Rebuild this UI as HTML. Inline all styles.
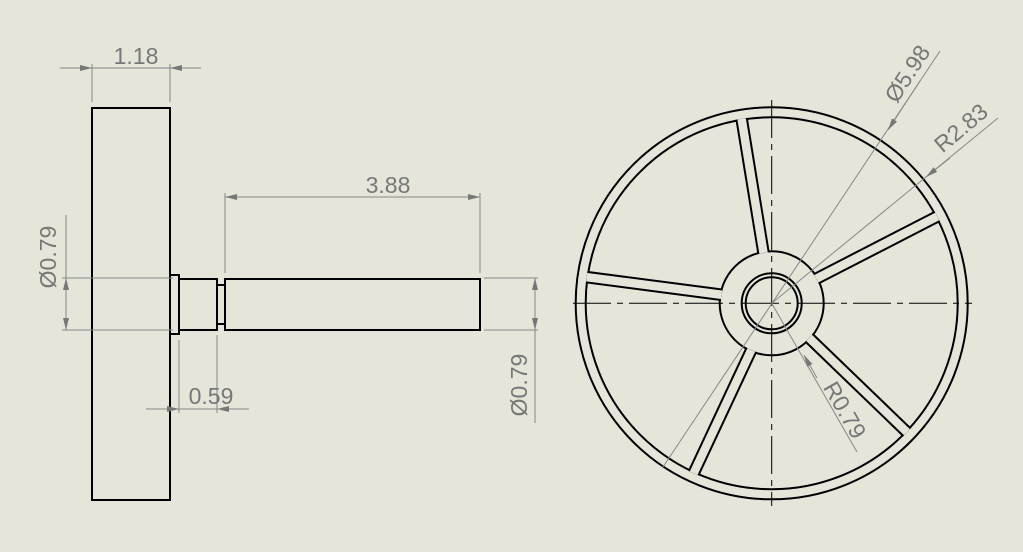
<!DOCTYPE html>
<html><head><meta charset="utf-8"><style>
html,body{margin:0;padding:0;background:#e5e5da;}
svg{display:block}
text{font-family:"Liberation Sans",sans-serif;fill:#777;font-size:23px}
</style></head><body>
<svg width="1023" height="552" viewBox="0 0 1023 552">
<defs>
<marker id="ar" markerWidth="12" markerHeight="6" refX="12" refY="3" orient="auto" markerUnits="userSpaceOnUse"><path d="M0,0 L12,3 L0,6 Z" fill="#777"/></marker>
<clipPath id="ann"><path clip-rule="evenodd" d="M771.7,303.3 m-187,0 a187,187 0 1,0 374,0 a187,187 0 1,0 -374,0 Z M771.7,303.3 m-51,0 a51,51 0 1,0 102,0 a51,51 0 1,0 -102,0 Z"/></clipPath>
</defs>
<rect width="1023" height="552" fill="#e5e5da"/>

<g fill="none" stroke="#000" stroke-width="2">
<rect x="92" y="108" width="78" height="392"/>
<rect x="170" y="275" width="9" height="59"/>
<rect x="179" y="279" width="38" height="51"/>
<rect x="217" y="285" width="8" height="39"/>
<rect x="225" y="279" width="255" height="51"/>
</g>

<g stroke="#888" stroke-width="1" fill="none">
<line x1="92" y1="64" x2="92" y2="102"/><line x1="170" y1="64" x2="170" y2="102"/>
<line x1="60" y1="68" x2="92" y2="68" marker-end="url(#ar)"/>
<line x1="201" y1="68" x2="170" y2="68" marker-end="url(#ar)"/>
<line x1="92" y1="68" x2="170" y2="68"/>
<line x1="225" y1="193" x2="225" y2="273"/><line x1="480" y1="193" x2="480" y2="273"/>
<line x1="352" y1="197" x2="225" y2="197" marker-end="url(#ar)"/>
<line x1="352" y1="197" x2="480" y2="197" marker-end="url(#ar)"/>
<line x1="62" y1="278" x2="173" y2="278"/><line x1="62" y1="330" x2="173" y2="330"/>
<line x1="66" y1="215" x2="66" y2="330"/>
<line x1="66" y1="304" x2="66" y2="278" marker-end="url(#ar)"/>
<line x1="66" y1="304" x2="66" y2="330" marker-end="url(#ar)"/>
<line x1="484" y1="278" x2="538" y2="278"/><line x1="484" y1="330" x2="538" y2="330"/>
<line x1="535" y1="278" x2="535" y2="423"/>
<line x1="535" y1="304" x2="535" y2="278" marker-end="url(#ar)"/>
<line x1="535" y1="304" x2="535" y2="330" marker-end="url(#ar)"/>
<line x1="179" y1="340" x2="179" y2="413"/><line x1="217" y1="335" x2="217" y2="413"/>
<line x1="146" y1="409" x2="179" y2="409" marker-end="url(#ar)"/>
<line x1="249" y1="409" x2="217" y2="409" marker-end="url(#ar)"/>
<line x1="179" y1="409" x2="217" y2="409"/>
</g>
<text x="136" y="64" text-anchor="middle">1.18</text>
<text x="388" y="193" text-anchor="middle">3.88</text>
<text x="211" y="404" text-anchor="middle">0.59</text>
<text transform="translate(56,257) rotate(-90)" text-anchor="middle">Ø0.79</text>
<text transform="translate(527,385) rotate(-90)" text-anchor="middle">Ø0.79</text>

<g fill="none" stroke="#000" stroke-width="2">
<circle cx="771.7" cy="303.3" r="196"/>
<circle cx="771.7" cy="303.3" r="186"/>
<circle cx="771.7" cy="303.3" r="52"/>
<circle cx="771.7" cy="303.3" r="30"/>
<circle cx="771.7" cy="303.3" r="26"/>
<g clip-path="url(#ann)">
<g stroke="#000" stroke-width="12.5">
<line x1="741" y1="115" x2="765" y2="262"/>
<line x1="944" y1="213" x2="808" y2="283"/>
<line x1="914" y1="439" x2="803" y2="332"/>
<line x1="690" y1="481" x2="755" y2="342"/>
<line x1="578" y1="276" x2="731" y2="296"/>
</g>
<g stroke="#e5e5da" stroke-width="8.5">
<line x1="741" y1="115" x2="765" y2="262"/>
<line x1="944" y1="213" x2="808" y2="283"/>
<line x1="914" y1="439" x2="803" y2="332"/>
<line x1="690" y1="481" x2="755" y2="342"/>
<line x1="578" y1="276" x2="731" y2="296"/>
</g>
</g>
</g>
<g stroke="#000" stroke-width="1" stroke-dasharray="38,6,6,6">
<line x1="573" y1="303.3" x2="972" y2="303.3"/>
<line x1="771.7" y1="100" x2="771.7" y2="506"/>
</g>
<g stroke="#888" stroke-width="1" fill="none">
<line x1="663" y1="467" x2="940" y2="51"/>
<line x1="920" y1="81" x2="888" y2="130" marker-end="url(#ar)"/>
<line x1="771.7" y1="303.3" x2="998" y2="118"/>
<line x1="950" y1="158" x2="926" y2="177" marker-end="url(#ar)"/>
<line x1="771.7" y1="303.3" x2="857" y2="452"/>
<line x1="817" y1="378" x2="804" y2="355" marker-end="url(#ar)"/>
</g>
<text transform="translate(914,78) rotate(-57)" text-anchor="middle">Ø5.98</text>
<text transform="translate(966,134) rotate(-40)" text-anchor="middle">R2.83</text>
<text transform="translate(838,414) rotate(60)" text-anchor="middle">R0.79</text>
</svg>
</body></html>
